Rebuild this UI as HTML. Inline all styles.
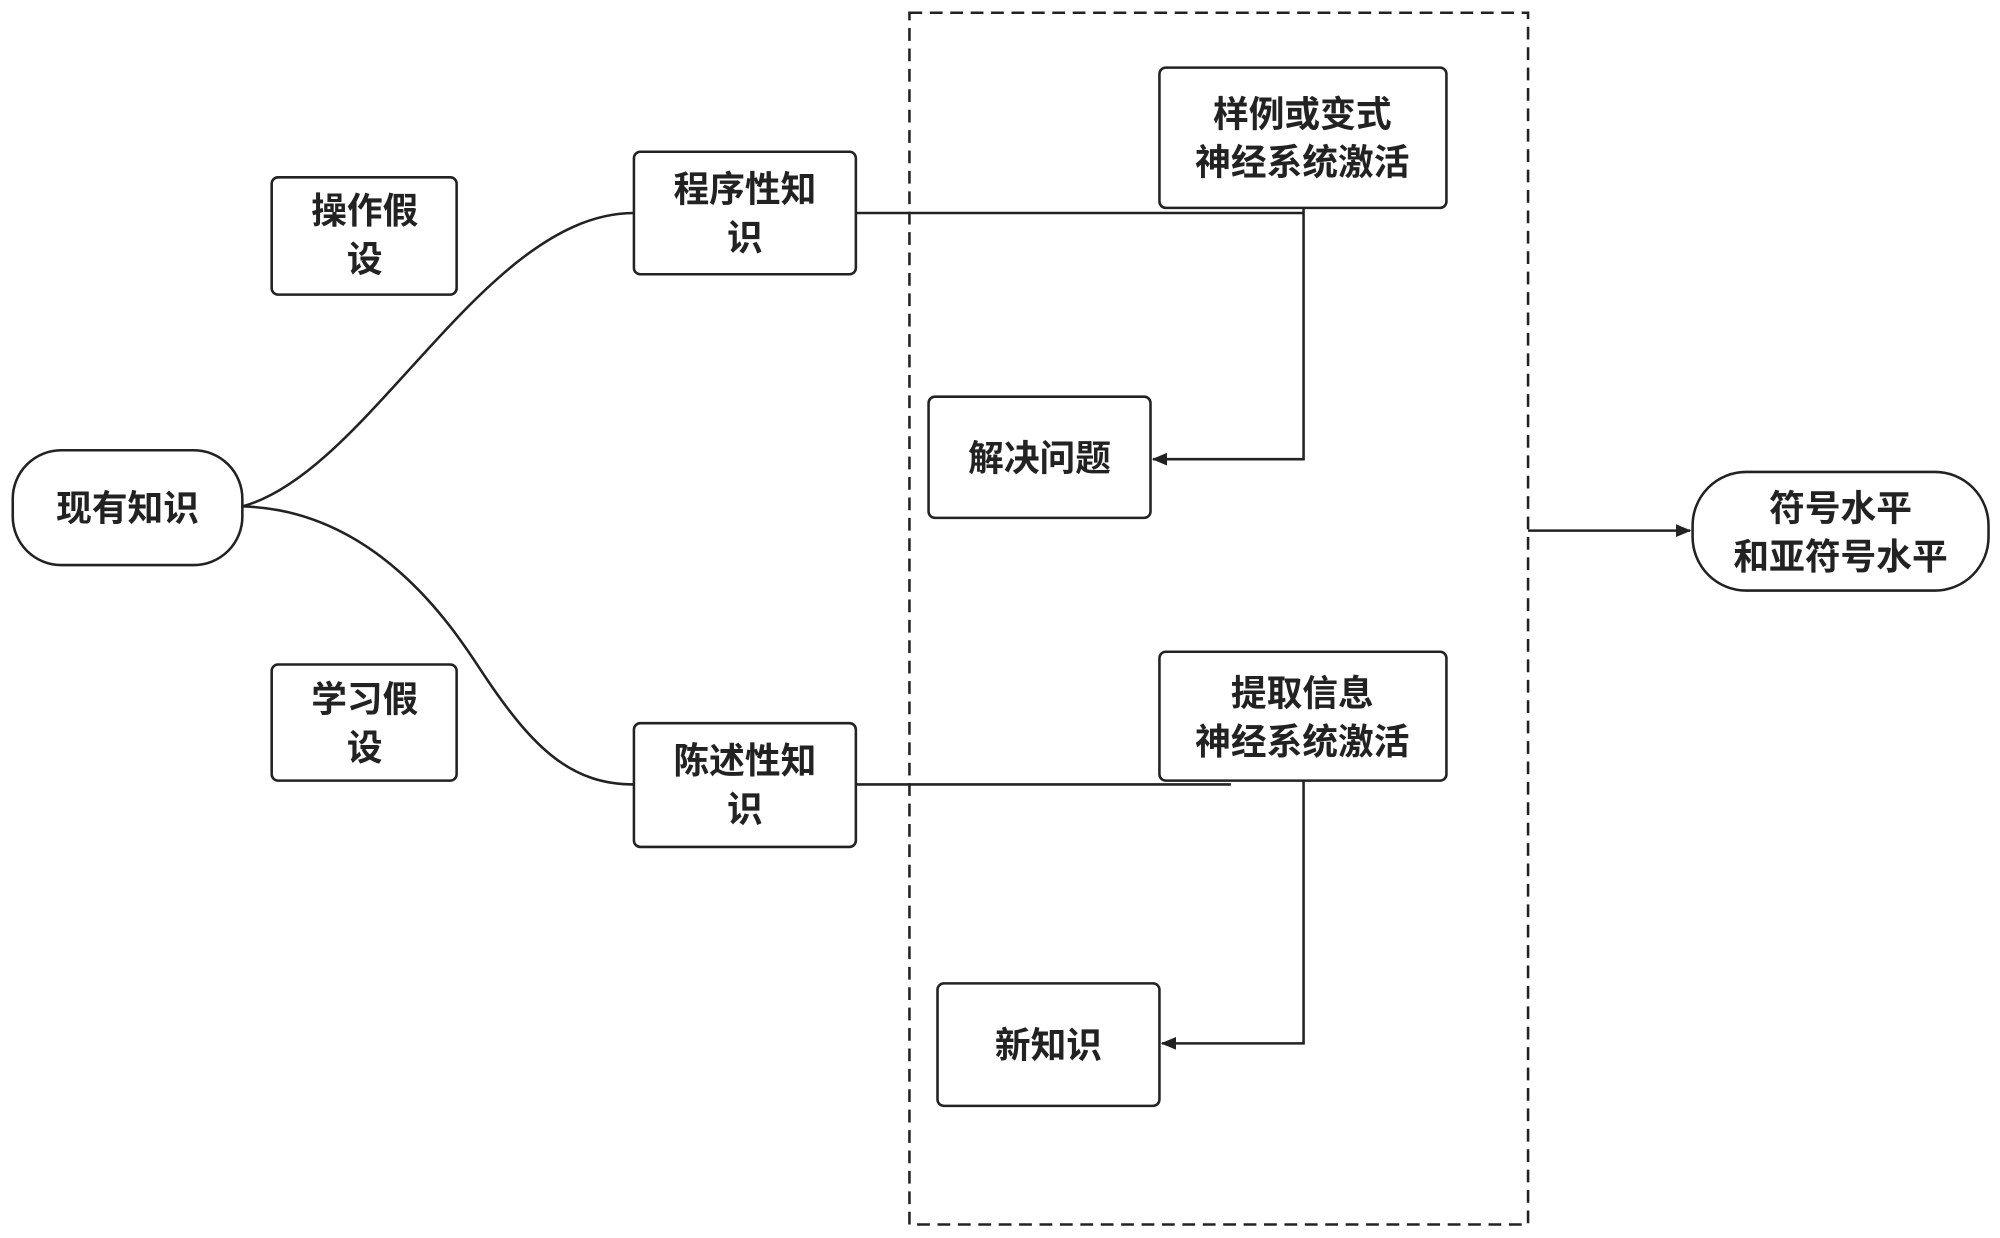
<!DOCTYPE html>
<html><head><meta charset="utf-8"><style>
html,body{margin:0;padding:0;background:#fff;}
svg{display:block;}
text{font-family:"Liberation Sans","Noto Sans CJK SC",sans-serif;font-weight:bold;font-size:28px;fill:#222;text-anchor:middle;}
</style></head><body>
<svg width="2000" height="1238" viewBox="0 0 1568 970.6" preserveAspectRatio="none" xmlns="http://www.w3.org/2000/svg">
<defs><marker id="a" markerWidth="12" markerHeight="10" refX="11" refY="5" orient="auto" markerUnits="userSpaceOnUse"><path d="M0,0 L12,5 L0,10 z" fill="#222"/></marker></defs>
<g fill="none" stroke="#222" stroke-width="2">
<rect x="713" y="10" width="485" height="950" stroke-dasharray="10,6"/>
<rect x="10" y="353" width="180" height="90" rx="38"/>
<rect x="213" y="139" width="145" height="92" rx="5"/>
<rect x="497" y="119" width="174" height="96" rx="5"/>
<rect x="213" y="521" width="145" height="91" rx="5"/>
<rect x="497" y="567" width="174" height="97" rx="5"/>
<rect x="909" y="53" width="225" height="110" rx="5"/>
<rect x="728" y="311" width="174" height="95" rx="5"/>
<rect x="909" y="511" width="225" height="101" rx="5"/>
<rect x="735" y="771" width="174" height="96" rx="5"/>
<rect x="1327" y="370" width="232" height="93" rx="42"/>
<path d="M190 397 C290 370 380 167 497 167"/>
<path d="M190 397 C300 400 360 500 380 530 C420 590 450 615 497 615"/>
<path d="M671 167 H1022"/>
<path d="M1022 163 V360 H904" marker-end="url(#a)"/>
<path d="M671 615 H965"/>
<path d="M1022 612 V818 H911" marker-end="url(#a)"/>
<path d="M1198 416 H1325" marker-end="url(#a)"/>
</g>
<text x="100" y="408">现有知识</text>
<text x="286" y="175">操作假</text><text x="286" y="213">设</text>
<text x="584" y="158">程序性知</text><text x="584" y="196">识</text>
<text x="286" y="558">学习假</text><text x="286" y="596">设</text>
<text x="584" y="606">陈述性知</text><text x="584" y="644">识</text>
<text x="1021" y="99">样例或变式</text><text x="1021" y="137">神经系统激活</text>
<text x="815" y="369">解决问题</text>
<text x="1021" y="553">提取信息</text><text x="1021" y="591">神经系统激活</text>
<text x="822" y="829">新知识</text>
<text x="1443" y="408">符号水平</text><text x="1443" y="446">和亚符号水平</text>
</svg>
</body></html>
